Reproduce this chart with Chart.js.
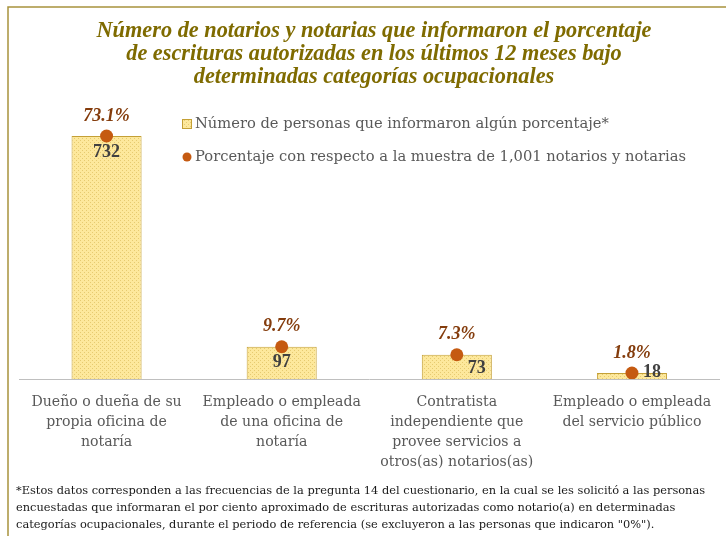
<!DOCTYPE html>
<html lang="es">
<head>
    <meta charset="UTF-8">
    <title>Notarios por categoría ocupacional</title>
    <style>
        html, body {
            margin: 0;
            padding: 0;
            background: #fff;
        }
        #chart {
            display: block;
        }
    </style>
</head>
<body>
    <canvas id="chart" width="726" height="536"></canvas>

    <script src="https://cdn.jsdelivr.net/npm/chart.js@4.4.1/dist/chart.umd.min.js"></script>
    <script>
    // Datos
    const categories = [
        ['Dueño o dueña de su', 'propia oficina de', 'notaría'],
        ['Empleado o empleada', 'de una oficina de', 'notaría'],
        ['Contratista', 'independiente que', 'provee servicios a', 'otros(as) notarios(as)'],
        ['Empleado o empleada', 'del servicio público']
    ];
    const counts = [732, 97, 73, 18];
    const percents = [73.1, 9.7, 7.3, 1.8];
    const sampleSize = 1001;
    const yMax = 780;

    const titleLines = [
        'Número de notarios y notarias que informaron el porcentaje',
        'de escrituras autorizadas en los últimos 12 meses bajo',
        'determinadas categorías ocupacionales'
    ];
    const legendLabels = [
        'Número de personas que informaron algún porcentaje*',
        'Porcentaje con respecto a la muestra de 1,001 notarios y notarias'
    ];
    const footnoteLines = [
        '*Estos datos corresponden a las frecuencias de la pregunta 14 del cuestionario, en la cual se les solicitó a las personas',
        'encuestadas que informaran el por ciento aproximado de escrituras autorizadas como notario(a) en determinadas',
        'categorías ocupacionales, durante el periodo de referencia (se excluyeron a las personas que indicaron "0%").'
    ];

    const SERIF = '"Liberation Serif", serif';
    const BODY = '"DejaVu Serif", "Liberation Serif", serif';
    const DOT_COLOR = '#c55a11';
    const BAR_BORDER = '#c4a036';

    // relleno punteado de las barras
    function makePattern() {
        const c = document.createElement('canvas');
        c.width = 4;
        c.height = 4;
        const g = c.getContext('2d');
        g.fillStyle = '#fde89c';
        g.fillRect(0, 0, 4, 4);
        g.fillStyle = '#e6ca70';
        g.fillRect(0, 0, 1, 1);
        g.fillRect(2, 2, 1, 1);
        return g.createPattern(c, 'repeat');
    }
    const barFill = makePattern();

    const decorPlugin = {
        id: 'decor',
        beforeDraw(chart) {
            const ctx = chart.ctx;
            ctx.save();
            ctx.strokeStyle = '#a8923c';
            ctx.lineWidth = 1.5;
            ctx.beginPath();
            ctx.moveTo(8, 540);
            ctx.lineTo(8, 7);
            ctx.lineTo(730, 7);
            ctx.stroke();

            // título
            ctx.fillStyle = '#7f6b00';
            ctx.font = 'italic bold 22.3px ' + SERIF;
            ctx.textAlign = 'center';
            ctx.textBaseline = 'middle';
            titleLines.forEach((t, i) => ctx.fillText(t, 374, 31 + i * 23));

            // leyenda
            ctx.font = '14.7px ' + BODY;
            ctx.textAlign = 'left';
            ctx.fillStyle = barFill;
            ctx.fillRect(182, 119, 9, 9);
            ctx.strokeStyle = BAR_BORDER;
            ctx.lineWidth = 1;
            ctx.strokeRect(182.5, 119.5, 9, 9);
            ctx.fillStyle = DOT_COLOR;
            ctx.beginPath();
            ctx.arc(187, 157, 4.5, 0, Math.PI * 2);
            ctx.fill();
            ctx.fillStyle = '#595959';
            ctx.fillText(legendLabels[0], 195, 124);
            ctx.fillText(legendLabels[1], 195, 157);

            // nota al pie
            ctx.fillStyle = '#1a1a1a';
            ctx.font = '11.4px ' + BODY;
            footnoteLines.forEach((t, i) => ctx.fillText(t, 16, 491 + i * 17));
            ctx.restore();
        },
        afterDatasetsDraw(chart) {
            const ctx = chart.ctx;
            const bars = chart.getDatasetMeta(0).data;
            const dots = chart.getDatasetMeta(1).data;
            ctx.save();
            ctx.textBaseline = 'middle';
            ctx.textAlign = 'center';
            bars.forEach((bar, i) => {
                const h = bar.base - bar.y;
                ctx.fillStyle = '#404040';
                ctx.font = 'bold 18px ' + SERIF;
                if (h > 28) {
                    ctx.fillText(counts[i], bar.x, bar.y + 16);
                } else {
                    ctx.fillText(counts[i], bar.x + 20, Math.min(bar.y + 14, bar.base - 7));
                }
            });
            dots.forEach((pt, i) => {
                ctx.fillStyle = '#843c0c';
                ctx.font = 'italic bold 18px ' + SERIF;
                ctx.fillText(percents[i].toFixed(1) + '%', pt.x, pt.y - 20);
            });
            ctx.restore();
        }
    };

    new Chart(document.getElementById('chart'), {
        data: {
            labels: categories,
            datasets: [
                {
                    type: 'bar',
                    label: legendLabels[0],
                    data: counts,
                    backgroundColor: barFill,
                    borderColor: BAR_BORDER,
                    borderWidth: 1,
                    barPercentage: 0.4,
                    categoryPercentage: 1,
                    yAxisID: 'y',
                    order: 2
                },
                {
                    type: 'line',
                    label: legendLabels[1],
                    data: percents,
                    showLine: false,
                    pointRadius: 6.5,
                    pointBackgroundColor: DOT_COLOR,
                    pointBorderWidth: 0,
                    yAxisID: 'y2',
                    order: 1
                }
            ]
        },
        options: {
            responsive: false,
            animation: false,
            layout: { padding: { top: 120, left: 19, right: 3, bottom: 51 } },
            plugins: {
                legend: { display: false },
                title: { display: false },
                tooltip: { enabled: false }
            },
            scales: {
                x: {
                    grid: { display: false, drawTicks: false },
                    border: { display: true, color: '#bfbfbf', width: 1 },
                    ticks: {
                        color: '#595959',
                        font: { family: BODY, size: 14.1, lineHeight: '20px' },
                        padding: 13,
                        maxRotation: 0,
                        autoSkip: false
                    }
                },
                y: { display: false, min: 0, max: yMax },
                y2: { display: false, min: 0, max: yMax / sampleSize * 100 }
            }
        },
        plugins: [decorPlugin]
    });
    </script>
</body>
</html>
